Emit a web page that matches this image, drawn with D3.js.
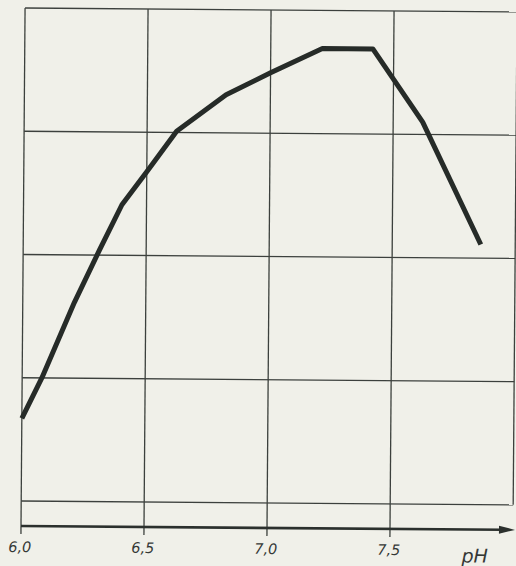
<!DOCTYPE html>
<html>
<head>
<meta charset="utf-8">
<script src="https://cdn.jsdelivr.net/npm/d3@7"></script>
<style>
  body { margin: 0; background: #f0f0e9; }
  svg { display: block; }
</style>
</head>
<body>
<svg id="chart" width="516" height="566"></svg>
<script>
var phValues = [6.0, 6.08, 6.21, 6.31, 6.40, 6.50, 6.62, 6.82, 7.0, 7.21, 7.415, 7.62, 7.86];
var yValues  = [0.67, 1.0, 1.615, 2.04, 2.41, 2.68, 3.01, 3.31, 3.49, 3.69, 3.69, 3.10, 2.11];
var xTicks = [6.0, 6.5, 7.0, 7.5];
var xTickLabels = ['6,0', '6,5', '7,0', '7,5'];
var yGrid = [0, 1, 2, 3, 4];

var svg = d3.select('#chart');

var x = d3.scaleLinear().domain([6, 8]).range([21, 513]);
var y = d3.scaleLinear().domain([0, 4]).range([501, 8]);
var axisY = 526;

// the scan is turned a little clockwise
var g = svg.append('g')
  .attr('transform', 'rotate(0.45, 21, ' + axisY + ')');

var gridColor = '#3c403d';

g.selectAll('line.h')
  .data(yGrid)
  .enter().append('line')
  .attr('class', 'h')
  .attr('x1', x(6)).attr('x2', x(8))
  .attr('y1', function(d) { return y(d); })
  .attr('y2', function(d) { return y(d); })
  .attr('stroke', gridColor)
  .attr('stroke-width', 1.3);

g.selectAll('line.v')
  .data(xTicks)
  .enter().append('line')
  .attr('class', 'v')
  .attr('x1', function(d) { return x(d); })
  .attr('x2', function(d) { return x(d); })
  .attr('y1', y(4))
  .attr('y2', axisY + 8)
  .attr('stroke', gridColor)
  .attr('stroke-width', 1.3);

g.append('line')
  .attr('x1', x(8)).attr('x2', x(8))
  .attr('y1', y(4)).attr('y2', y(0))
  .attr('stroke', gridColor)
  .attr('stroke-width', 1.3);

// x axis with arrow
g.append('line')
  .attr('x1', x(6)).attr('x2', x(8) - 10)
  .attr('y1', axisY).attr('y2', axisY)
  .attr('stroke', '#2b302d')
  .attr('stroke-width', 2.6);

g.append('path')
  .attr('d', 'M' + (x(8) - 14) + ',' + (axisY - 4) + ' L' + (x(8) + 2) + ',' + axisY +
             ' L' + (x(8) - 14) + ',' + (axisY + 4) + 'Z')
  .attr('fill', '#2b302d');

g.selectAll('text.tick')
  .data(xTicks)
  .enter().append('text')
  .attr('class', 'tick')
  .attr('x', function(d) { return x(d) - 1; })
  .attr('y', 552)
  .attr('text-anchor', 'middle')
  .attr('font-family', 'DejaVu Sans')
  .attr('font-style', 'italic')
  .attr('font-size', '14.5px')
  .attr('fill', '#353836')
  .text(function(d, i) { return xTickLabels[i]; });

g.append('text')
  .attr('x', 475)
  .attr('y', 559)
  .attr('text-anchor', 'middle')
  .attr('font-family', 'DejaVu Sans')
  .attr('font-style', 'italic')
  .attr('font-size', '19px')
  .attr('fill', '#353836')
  .text('pH');

var line = d3.line()
  .x(function(d) { return x(d[0]); })
  .y(function(d) { return y(d[1]); })
  .curve(d3.curveLinear);

var points = phValues.map(function(p, i) { return [p, yValues[i]]; });

g.append('path')
  .datum(points)
  .attr('d', line)
  .attr('fill', 'none')
  .attr('stroke', '#262b28')
  .attr('stroke-width', 5)
  .attr('stroke-linejoin', 'round');
</script>
</body>
</html>
